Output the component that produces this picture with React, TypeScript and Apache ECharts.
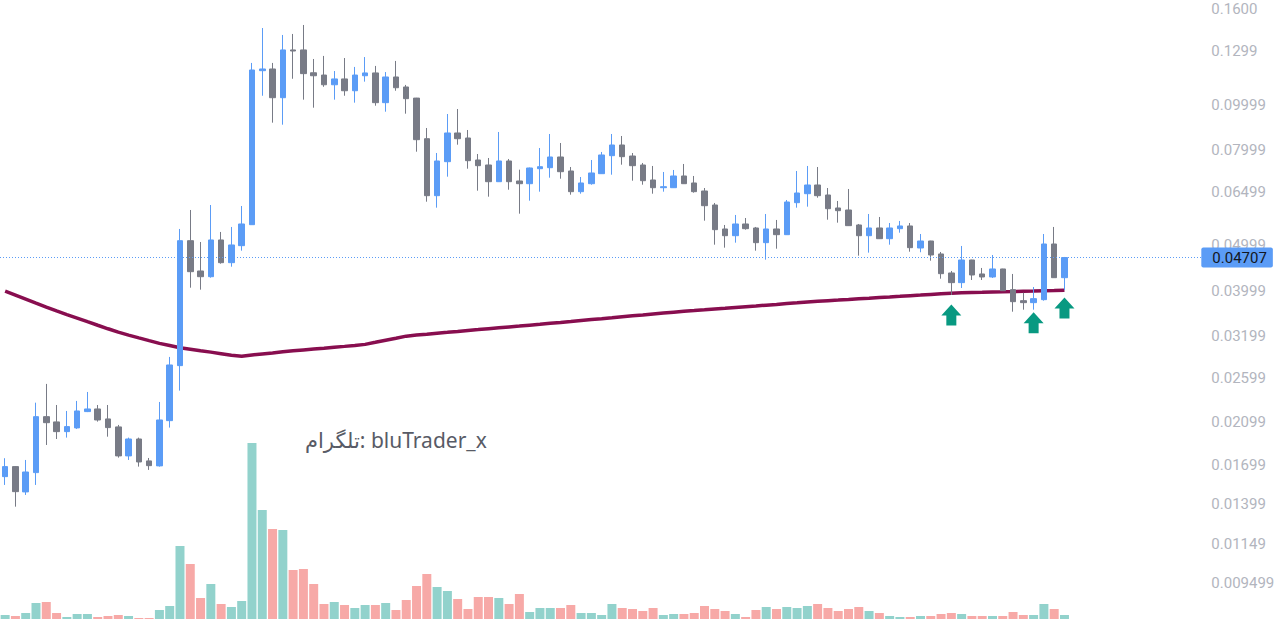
import React, { useEffect, useRef } from "react";
import * as echarts from "echarts";

// ---- data ----
const candleOpen = [
  0.01601, 0.01682, 0.01485, 0.01633, 0.02151, 0.02096, 0.01998, 0.02035, 0.02205, 0.02234,
  0.02127, 0.02045, 0.01773, 0.01927, 0.0173, 0.01688, 0.02109, 0.02765, 0.05115, 0.04406,
  0.04284, 0.05133, 0.0459, 0.04991, 0.05534, 0.1181, 0.1191, 0.1034, 0.1308, 0.1308,
  0.1169, 0.1156, 0.1102, 0.1134, 0.107, 0.1152, 0.1168, 0.1009, 0.1145, 0.109,
  0.1032, 0.0845, 0.06383, 0.07546, 0.08691, 0.08479, 0.07609, 0.07424, 0.06838, 0.07572,
  0.06862, 0.06771, 0.0729, 0.07326, 0.07722, 0.07208, 0.0651, 0.06771, 0.07113, 0.07772,
  0.08192, 0.0776, 0.07424, 0.06896, 0.06639, 0.06639, 0.07033, 0.06795, 0.06532, 0.06097,
  0.05418, 0.05242, 0.05553, 0.05445, 0.05065, 0.05418, 0.05268, 0.06167, 0.06446, 0.06728,
  0.06405, 0.06008, 0.05949, 0.05526, 0.05242, 0.05445, 0.05165, 0.05426, 0.05499, 0.04934,
  0.05107, 0.04791, 0.04363, 0.0416, 0.04651, 0.04342, 0.04278, 0.0445, 0.04019, 0.03807,
  0.0377, 0.03826, 0.05032, 0.04263,
];
const candleClose = [
  0.01682, 0.01487, 0.01638, 0.02151, 0.02088, 0.01998, 0.02048, 0.02212, 0.02234, 0.02116,
  0.02038, 0.01773, 0.01927, 0.01721, 0.0169, 0.02116, 0.02774, 0.05115, 0.04391, 0.04284,
  0.05133, 0.0459, 0.05008, 0.05553, 0.1185, 0.1191, 0.1034, 0.1308, 0.1301, 0.1164,
  0.1152, 0.1102, 0.1134, 0.107, 0.1156, 0.1168, 0.1009, 0.1145, 0.1086, 0.1029,
  0.08409, 0.06383, 0.07572, 0.08691, 0.0845, 0.07583, 0.07399, 0.06838, 0.07572, 0.06838,
  0.06771, 0.07315, 0.07362, 0.07722, 0.07183, 0.0651, 0.06795, 0.07138, 0.07799, 0.08192,
  0.07734, 0.07399, 0.06872, 0.06639, 0.06672, 0.07033, 0.06771, 0.0651, 0.06076, 0.054,
  0.05242, 0.05553, 0.05426, 0.05065, 0.05418, 0.05268, 0.06188, 0.06468, 0.06728, 0.06383,
  0.05987, 0.05929, 0.05507, 0.05242, 0.05445, 0.05165, 0.05445, 0.05499, 0.04942, 0.05107,
  0.04767, 0.04348, 0.0416, 0.04651, 0.0432, 0.04278, 0.0445, 0.03999, 0.03788, 0.0377,
  0.03845, 0.05032, 0.04263, 0.04707,
];
const candleLow = [
  0.01537, 0.01381, 0.01463, 0.01537, 0.01871, 0.01927, 0.0194, 0.02025, 0.022, 0.02099,
  0.01949, 0.01758, 0.01738, 0.01682, 0.01655, 0.01682, 0.02038, 0.02445, 0.04058, 0.04019,
  0.04263, 0.04567, 0.045, 0.04869, 0.05534, 0.1044, 0.09143, 0.09053, 0.1135, 0.1024,
  0.09843, 0.1091, 0.1024, 0.1044, 0.1009, 0.1119, 0.0994, 0.09651, 0.107, 0.09557,
  0.07926, 0.06197, 0.06017, 0.07009, 0.08204, 0.0729, 0.06542, 0.06352, 0.0683, 0.06574,
  0.05842, 0.06228, 0.0651, 0.06974, 0.0694, 0.06414, 0.06446, 0.06738, 0.07105, 0.07078,
  0.07435, 0.06872, 0.06738, 0.06446, 0.0651, 0.0663, 0.06765, 0.06478, 0.05644, 0.05015,
  0.04942, 0.05065, 0.054, 0.04869, 0.04658, 0.04917, 0.0526, 0.06017, 0.06047, 0.0632,
  0.05672, 0.05589, 0.055, 0.04751, 0.04822, 0.0516, 0.05015, 0.0532, 0.04845, 0.04831,
  0.04635, 0.04242, 0.03915, 0.04052, 0.04215, 0.04215, 0.04257, 0.03994, 0.03606, 0.03642,
  0.03642, 0.03807, 0.04258, 0.04013,
];
const candleHigh = [
  0.01753, 0.01685, 0.01738, 0.02304, 0.02527, 0.02278, 0.02212, 0.02324, 0.02429, 0.02278,
  0.02278, 0.02065, 0.0194, 0.0194, 0.01755, 0.02312, 0.02886, 0.05418, 0.05949, 0.05082,
  0.06097, 0.05339, 0.05472, 0.06067, 0.1227, 0.1457, 0.1227, 0.1408, 0.1415, 0.1479,
  0.1251, 0.127, 0.1179, 0.1257, 0.1203, 0.1263, 0.1209, 0.1173, 0.1239, 0.1101,
  0.1033, 0.08907, 0.07876, 0.09542, 0.0978, 0.0882, 0.07837, 0.07684, 0.08734, 0.07647,
  0.07255, 0.0733, 0.08072, 0.08648, 0.08273, 0.07351, 0.06998, 0.07609, 0.07915, 0.08648,
  0.08563, 0.07876, 0.07498, 0.07388, 0.07173, 0.07244, 0.07461, 0.07033, 0.06629, 0.06158,
  0.05526, 0.05805, 0.05719, 0.05472, 0.05833, 0.05664, 0.06249, 0.07208, 0.07388, 0.07351,
  0.06629, 0.06219, 0.06597, 0.05553, 0.05833, 0.05748, 0.0558, 0.05636, 0.0558, 0.05286,
  0.05112, 0.04838, 0.04406, 0.04983, 0.04656, 0.04472, 0.04767, 0.04455, 0.04342, 0.0396,
  0.04072, 0.05286, 0.05472, 0.04721,
];
const volumes = [
  4, 3, 6, 16, 17, 6, 2, 5, 5, 2,
  3, 4, 3, 1, 1, 9, 13, 73, 55, 21,
  35, 15, 12, 18, 176, 109, 90, 89, 49, 50,
  35, 15, 17, 14, 11, 14, 14, 16, 9, 19,
  33, 45, 32, 28, 20, 10, 22, 22, 21, 15,
  25, 7, 11, 11, 11, 14, 6, 6, 4, 15,
  11, 10, 8, 11, 4, 5, 5, 6, 13, 10,
  8, 5, 2, 9, 12, 10, 12, 11, 13, 15,
  11, 8, 10, 12, 8, 6, 3, 2, 2, 3,
  3, 5, 6, 5, 3, 3, 3, 3, 7, 4,
  4, 15, 10, 4,
];
const movingAverage = [
  0.03989, 0.03913, 0.03837, 0.03762, 0.03689, 0.03619, 0.03555, 0.03495, 0.03433, 0.03373,
  0.03315, 0.0326, 0.03214, 0.0317, 0.03127, 0.03085, 0.03052, 0.03019, 0.02997, 0.02975,
  0.02955, 0.02933, 0.02911, 0.02897, 0.02913, 0.02929, 0.02944, 0.0296, 0.02974, 0.02987,
  0.03, 0.03013, 0.03027, 0.0304, 0.03054, 0.0307, 0.03101, 0.03133, 0.03164, 0.03197,
  0.03214, 0.03228, 0.03243, 0.03257, 0.03272, 0.03288, 0.03302, 0.03317, 0.03332, 0.03346,
  0.0336, 0.03375, 0.0339, 0.03406, 0.03421, 0.03437, 0.03454, 0.03469, 0.03484, 0.035,
  0.03517, 0.03533, 0.03548, 0.03566, 0.03582, 0.03598, 0.03614, 0.03626, 0.0364, 0.03655,
  0.03667, 0.03682, 0.03696, 0.03709, 0.03724, 0.03738, 0.03753, 0.03766, 0.03781, 0.03796,
  0.03807, 0.03818, 0.0383, 0.03843, 0.03854, 0.03866, 0.03877, 0.03889, 0.03902, 0.03913,
  0.03925, 0.03937, 0.03948, 0.03956, 0.03962, 0.03966, 0.03972, 0.03976, 0.03981, 0.03987,
  0.03991, 0.03997, 0.04001, 0.04007,
];
const arrowBars = [92, 100, 103];
const arrowPrices = [0.03548, 0.03416, 0.03673];
const tickLabels = [
  "0.1600", "0.1299", "0.09999", "0.07999", "0.06499", "0.04999", "0.03999",
  "0.03199", "0.02599", "0.02099", "0.01699", "0.01399", "0.01149", "0.009499",
];
const lastPrice = 0.04707;
const lastPriceLabel = "0.04707";
const watermarkText = "تلگرام: bluTrader_x";
const emptySlotsRight = 13;

const categories = Array.from(
  { length: candleOpen.length + emptySlotsRight },
  (_, i) => `#${i + 1}`
);
const tickValues = tickLabels.map(Number);

const UP = "#5b9cf6";
const DOWN = "#787b86";
const VOL_UP = "#92d2cc";
const VOL_DOWN = "#f7a9a7";

export default function App() {
  const ref = useRef<HTMLDivElement>(null);
  useEffect(() => {
    document.body.style.margin = "0";
    if (!ref.current) return;
    const chart = echarts.init(ref.current, undefined, { renderer: "svg" });

    const step = 10.31;
    const gridLeft = 2.2 - step / 2;
    const gridWidth = step * categories.length;

    const candles = candleOpen.map((o, i) => [o, candleClose[i], candleLow[i], candleHigh[i]]);
    const volData = volumes.map((v, i) => ({
      value: v,
      itemStyle: { color: candleClose[i] >= candleOpen[i] ? VOL_UP : VOL_DOWN },
    }));
    const arrows = arrowBars.map((b, i) => [b, arrowPrices[i]]);

    const fmt = (v: number) => {
      let best = tickLabels[0];
      let bd = Infinity;
      tickValues.forEach((t, i) => {
        const d = Math.abs(Math.log(t) - Math.log(v));
        if (d < bd) {
          bd = d;
          best = tickLabels[i];
        }
      });
      return best;
    };

    chart.setOption({
      animation: false,
      backgroundColor: "#ffffff",
      grid: [
        { left: gridLeft, width: gridWidth, top: 0, bottom: 0 },
        { left: gridLeft, width: gridWidth, bottom: 0, height: 200 },
      ],
      xAxis: [
        { type: "category", data: categories, gridIndex: 0, boundaryGap: true, show: false },
        { type: "category", data: categories, gridIndex: 1, boundaryGap: true, show: false },
      ],
      yAxis: [
        {
          type: "log",
          logBase: 10,
          gridIndex: 0,
          position: "right",
          min: 0.007944,
          max: 0.16725,
          axisLine: { show: false },
          axisTick: { show: false },
          splitLine: { show: false },
          axisLabel: {
            customValues: tickValues,
            formatter: fmt,
            color: "#b2b5be",
            fontSize: 15,
            fontFamily: "Roboto, sans-serif",
            margin: 8,
          },
        },
        { type: "value", gridIndex: 1, min: 0, max: 200, show: false },
      ],
      series: [
        {
          type: "bar",
          xAxisIndex: 1,
          yAxisIndex: 1,
          data: volData,
          barWidth: 9,
          silent: true,
          z: 1,
        },
        {
          type: "line",
          xAxisIndex: 0,
          yAxisIndex: 0,
          data: movingAverage,
          showSymbol: false,
          symbol: "none",
          lineStyle: { color: "#880e4f", width: 3.5 },
          silent: true,
          z: 2,
        },
        {
          type: "candlestick",
          xAxisIndex: 0,
          yAxisIndex: 0,
          data: candles,
          barWidth: 6,
          itemStyle: {
            color: UP,
            color0: DOWN,
            borderColor: UP,
            borderColor0: DOWN,
            borderWidth: 1,
          },
          silent: true,
          z: 3,
          markLine: {
            silent: true,
            precision: 6,
            symbol: ["none", "none"],
            data: [{ yAxis: lastPrice }],
            lineStyle: { color: UP, type: [1, 2], width: 1 },
            emphasis: { disabled: true },
            label: {
              show: true,
              position: "end",
              formatter: lastPriceLabel,
              backgroundColor: UP,
              color: "#131722",
              fontSize: 15,
              fontFamily: "Roboto, sans-serif",
              lineHeight: 15,
              padding: [3, 6, 2, 11],
              borderRadius: 2,
              distance: -2,
            },
          },
        },
        {
          type: "scatter",
          xAxisIndex: 0,
          yAxisIndex: 0,
          data: arrows,
          symbol: "path://M10,0L20,11L15,11L15,21L5,21L5,11L0,11Z",
          symbolSize: [20, 21],
          itemStyle: { color: "#089981", opacity: 1 },
          silent: true,
          z: 4,
        },
      ],
      graphic: [
        {
          type: "text",
          x: 305,
          y: 440,
          silent: true,
          style: {
            text: watermarkText,
            fontSize: 21,
            fontFamily: "'Noto Sans', 'DejaVu Sans', sans-serif",
            fill: "#585b66",
            align: "left",
            verticalAlign: "middle",
          },
        },
      ],
    });
    return () => chart.dispose();
  }, []);
  return <div ref={ref} style={{ width: 1279, height: 619 }} />;
}
